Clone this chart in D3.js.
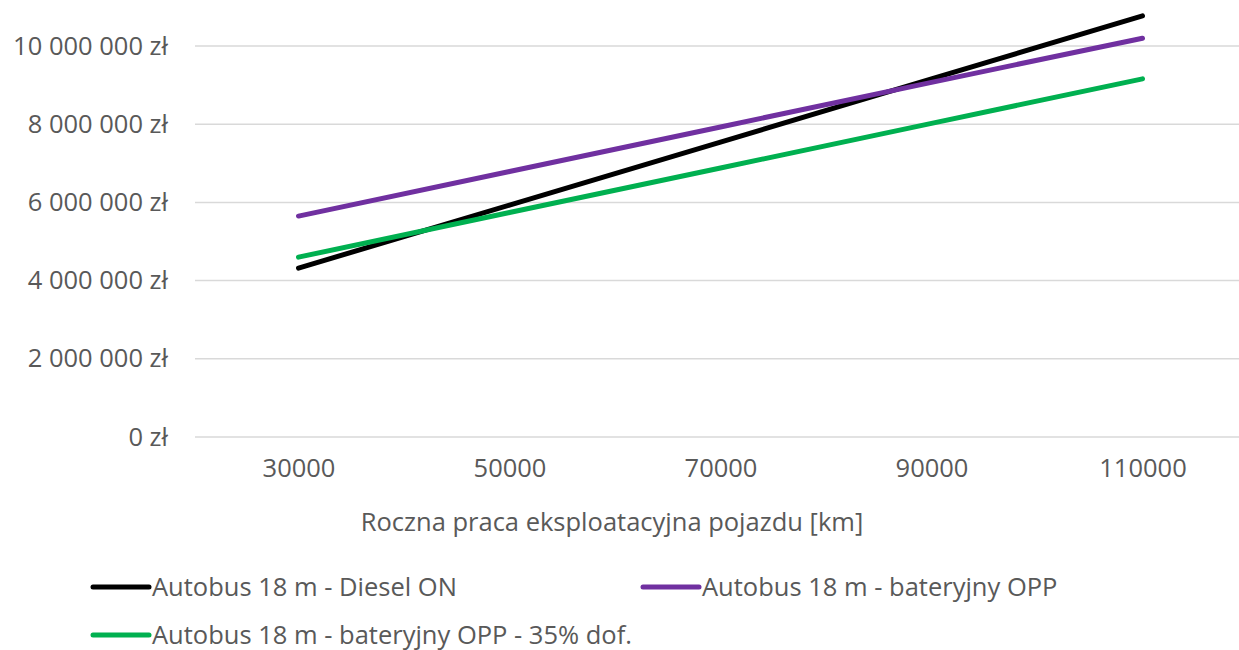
<!DOCTYPE html>
<html>
<head>
<meta charset="utf-8">
<script src="https://cdnjs.cloudflare.com/ajax/libs/d3/7.8.5/d3.min.js"></script>
<style>
  body { margin: 0; background: #fff; }
  text { font-family: "Open Sans", sans-serif; fill: #595959; }
</style>
</head>
<body>
<div class="canvas"></div>
<script>
// data
var kilometers = [30000, 50000, 70000, 90000, 110000];
var dieselOn = [4320000, 5930000, 7540000, 9160000, 10770000];
var bateryjnyOpp = [5650000, 6790000, 7930000, 9070000, 10200000];
var bateryjnyOpp35 = [4600000, 5740000, 6880000, 8020000, 9160000];
var yTicks = [0, 2000000, 4000000, 6000000, 8000000, 10000000];
var xTicks = [30000, 50000, 70000, 90000, 110000];
var seriesNames = ["Autobus 18 m - Diesel ON", "Autobus 18 m - bateryjny OPP", "Autobus 18 m - bateryjny OPP - 35% dof."];
var seriesColors = ["#000000", "#7030a0", "#00b050"];

var width = 1239, height = 650;
var fs = "25.5px";

var svg = d3.select(".canvas")
	.append("svg")
	.attr("width", width)
	.attr("height", height);

var x = d3.scaleLinear().domain([20000, 120000]).range([193, 1248]);
var y = d3.scaleLinear().domain([0, 10000000]).range([437, 46]);

function zl(v){
	return d3.format(",")(v).replace(/,/g, " ") + " zł";
}

// gridlines
svg.append("g")
	.selectAll("line")
	.data(yTicks)
	.enter().append("line")
	.attr("x1", 195)
	.attr("x2", width)
	.attr("y1", function(d){ return y(d); })
	.attr("y2", function(d){ return y(d); })
	.attr("stroke", "#d9d9d9")
	.attr("stroke-width", 1.5);

// y axis labels
var yAxis = d3.axisLeft(y).tickValues(yTicks).tickFormat(zl).tickSize(0).tickPadding(0);
var gy = svg.append("g").attr("transform", "translate(168,0)").call(yAxis);
gy.select(".domain").remove();
gy.selectAll("text")
	.style("font-size", fs)
	.attr("fill", "#595959")
	.style("font-family", "'Open Sans', sans-serif");

// x axis labels
var xAxis = d3.axisBottom(x).tickValues(xTicks).tickFormat(d3.format("d")).tickSize(0).tickPadding(0);
var gx = svg.append("g").attr("transform", "translate(0,459)").call(xAxis);
gx.select(".domain").remove();
gx.selectAll("text")
	.style("font-size", fs)
	.attr("fill", "#595959")
	.style("font-family", "'Open Sans', sans-serif");

svg.append("text")
	.attr("x", 612)
	.attr("y", 522)
	.attr("dy", "0.35em")
	.attr("text-anchor", "middle")
	.style("font-size", fs)
	.text("Roczna praca eksploatacyjna pojazdu [km]");

// lines
var allSeries = [dieselOn, bateryjnyOpp, bateryjnyOpp35];
var line = d3.line()
	.x(function(d, i){ return x(kilometers[i]); })
	.y(function(d){ return y(d); });

allSeries.forEach(function(s, i){
	svg.append("path")
		.datum(s)
		.attr("d", line)
		.attr("fill", "none")
		.attr("stroke", seriesColors[i])
		.attr("stroke-width", 5)
		.attr("stroke-linecap", "round")
		.attr("stroke-linejoin", "round");
});

// legend
var legendPos = [[93, 587], [643, 587], [93, 635]];
seriesNames.forEach(function(name, i){
	var p = legendPos[i];
	svg.append("line")
		.attr("x1", p[0]).attr("x2", p[0] + 56)
		.attr("y1", p[1]).attr("y2", p[1])
		.attr("stroke", seriesColors[i])
		.attr("stroke-width", 5)
		.attr("stroke-linecap", "round");
	svg.append("text")
		.attr("x", p[0] + 59)
		.attr("y", p[1])
		.attr("dy", "0.35em")
		.style("font-size", fs)
		.text(name);
});
</script>
</body>
</html>
